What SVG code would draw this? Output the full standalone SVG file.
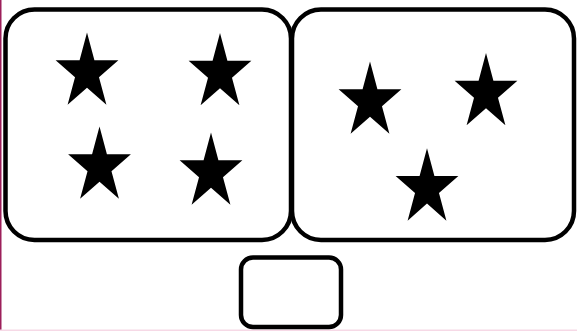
<svg xmlns="http://www.w3.org/2000/svg" xmlns:xlink="http://www.w3.org/1999/xlink" width="577" height="331" viewBox="0 0 577 331">
  <style>
    .box { fill: #ffffff; stroke: #000000; stroke-width: 4.5; }
    .star { fill: #000000; stroke: none; }
  </style>
  <defs>
    <polygon id="star" class="star" points="0,-40 7.41,-12.36 31.38,-12.36 11.98,4.72 19.4,32.36 0,15.28 -19.4,32.36 -11.98,4.72 -31.38,-12.36 -7.41,-12.36"/>
  </defs>
  <rect x="0" y="0" width="577" height="331" fill="#ffffff"/>
  <rect x="0" y="0" width="1.5" height="331" fill="#9c1f5a"/>
  <rect x="0" y="329.5" width="577" height="1.5" fill="#f6d9e6"/>

  <g id="box-left">
    <rect class="box" x="5.5" y="9.5" width="285.5" height="230.5" rx="29" ry="29"/>
    <use xlink:href="#star" href="#star" x="87" y="72.5"/>
    <use xlink:href="#star" href="#star" x="220" y="73"/>
    <use xlink:href="#star" href="#star" x="99.5" y="166.5"/>
    <use xlink:href="#star" href="#star" x="211" y="172.5"/>
  </g>

  <g id="box-right">
    <rect class="box" x="292" y="9.5" width="282" height="230.5" rx="29" ry="29"/>
    <use xlink:href="#star" href="#star" x="370" y="101.5"/>
    <use xlink:href="#star" href="#star" x="486" y="93"/>
    <use xlink:href="#star" href="#star" x="427" y="188.3"/>
  </g>

  <g id="box-bottom">
    <rect class="box" x="241" y="257.5" width="100" height="69.5" rx="12" ry="12"/>
  </g>

  <g id="connectors"></g>
</svg>
